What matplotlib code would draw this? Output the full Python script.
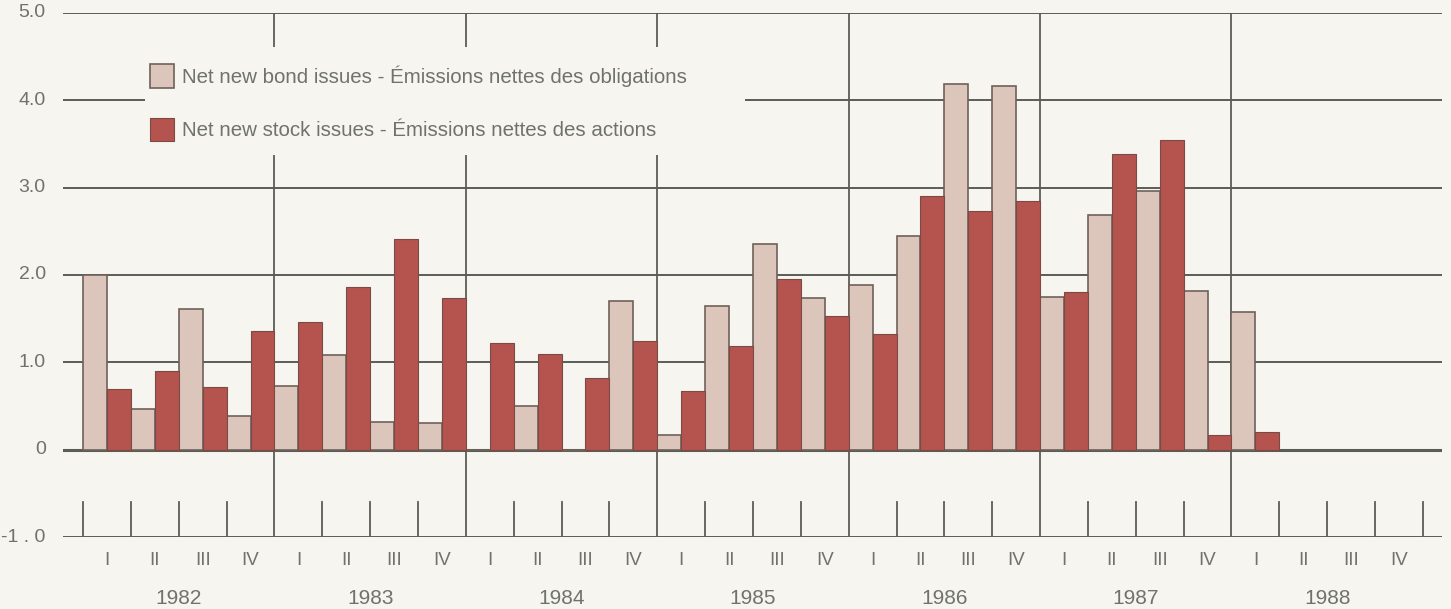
import numpy as np
import matplotlib.pyplot as plt
from matplotlib.patches import Rectangle

# quarterly data, 1982 Q1 .. 1988 Q1 (billions)
years = ['1982', '1983', '1984', '1985', '1986', '1987', '1988']
quarters = ['I', 'II', 'III', 'IV']
bond = [2.00, 0.47, 1.61, 0.38,
        0.73, 1.08, 0.32, 0.30,
        0.00, 0.50, -0.02, 1.70,
        0.17, 1.64, 2.35, 1.74,
        1.89, 2.45, 4.19, 4.16,
        1.75, 2.69, 2.96, 1.82,
        1.58]
stock = [0.70, 0.90, 0.72, 1.36,
         1.46, 1.86, 2.41, 1.74,
         1.22, 1.10, 0.82, 1.24,
         0.67, 1.19, 1.95, 1.53,
         1.32, 2.90, 2.73, 2.85,
         1.80, 3.39, 3.54, 0.17,
         0.20]
yticks = [5.0, 4.0, 3.0, 2.0, 1.0, 0.0, -1.0]
ylabels = ['5.0', '4.0', '3.0', '2.0', '1.0', '0', '-1 . 0']

bg = '#f6f5f0'
line_c = '#5a5d55'
txt_c = '#6f7369'
bond_c = '#dcc6bb'
stock_c = '#b5534e'
edge_c = '#6e625a'

plt.rcParams['font.family'] = ['Liberation Sans', 'DejaVu Sans']

fig = plt.figure(figsize=(14.51, 6.09), dpi=100, facecolor=bg)
ax = fig.add_axes([0.0434, 0.1182, 0.9504, 0.8605])
ax.set_facecolor(bg)

nq = len(years) * 4
ax.set_xlim(-0.42, 28.4)
ax.set_ylim(-1, 5)

# horizontal rules
for y in yticks:
    ax.axhline(y, color=line_c, lw=2.2 if y == 0 else 1.4, zorder=1)

# year separators and quarter ticks
for q in range(nq + 1):
    if q % 4 == 0 and 0 < q < nq:
        ax.plot([q, q], [-1, 5], color=line_c, lw=1.3, zorder=1)
    else:
        ax.plot([q, q], [-1, -0.6], color=line_c, lw=1.3, zorder=1)

x = np.arange(len(bond))
ax.bar(x + 0.25, bond, width=0.5, color=bond_c, edgecolor=edge_c,
       linewidth=1.2, zorder=2, label='Net new bond issues - Émissions nettes des obligations')
ax.bar(x + 0.75, stock, width=0.5, color=stock_c, edgecolor='#7a4a45',
       linewidth=0.8, zorder=2, label='Net new stock issues - Émissions nettes des actions')

# blank panel behind the legend
ax.add_patch(Rectangle((0.0595, 0.729), 0.435, 0.206, transform=ax.transAxes,
                       facecolor=bg, edgecolor='none', zorder=3))
leg = ax.legend(loc='upper left', bbox_to_anchor=(0.0555, 0.922), frameon=False,
                fontsize=14.8, handlelength=1.2, handleheight=1.4,
                handletextpad=0.35, labelspacing=1.45, borderpad=0,
                labelcolor=txt_c)
leg.set_zorder(4)

# labels
ax.set_xticks([])
ax.set_yticks([])
for y, lab in zip(yticks, ylabels):
    ax.text(-0.78, y, lab, ha='right', va='center', fontsize=14,
            color=txt_c, clip_on=False)
for i in range(nq):
    ax.text(i + 0.5, -1.27, quarters[i % 4], ha='center', va='center',
            fontsize=13.5, color=txt_c, clip_on=False)
for j, yr in enumerate(years):
    ax.text(j * 4 + 2, -1.7, yr, ha='center', va='center',
            fontsize=15, color=txt_c, clip_on=False)

for s in ax.spines.values():
    s.set_visible(False)

fig.savefig('out.png', dpi=100, facecolor=bg)
